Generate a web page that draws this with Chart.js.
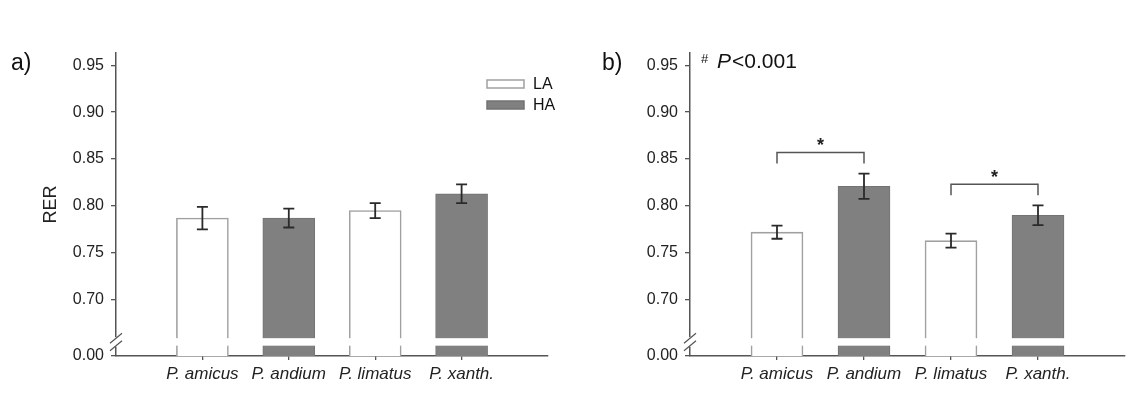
<!DOCTYPE html>
<html>
<head>
<meta charset="utf-8">
<script src="https://cdn.jsdelivr.net/npm/chart.js@4.4.1/dist/chart.umd.min.js"></script>
<style>
    html, body { margin: 0; padding: 0; background: #fff; }
    .panel { position: absolute; top: 0; width: 566px; height: 396px; }
    #wrap-a { left: 0; }
    #wrap-b { left: 566px; }
</style>
</head>
<body>
<div class="panel" id="wrap-a"><canvas id="chart-a"></canvas></div>
<div class="panel" id="wrap-b"><canvas id="chart-b"></canvas></div>
<script>
// Data
const species = ['P. amicus', 'P. andium', 'P. limatus', 'P. xanth.'];
const groups = ['LA', 'HA', 'LA', 'HA'];
const xPos = [1, 2, 3, 4];
const rerA = [0.787, 0.787, 0.795, 0.813];
const errA = [0.012, 0.010, 0.008, 0.010];
const rerB = [0.772, 0.821, 0.763, 0.790];
const errB = [0.007, 0.0135, 0.0075, 0.0105];
const yTickValues = [0.64, 0.70, 0.75, 0.80, 0.85, 0.90, 0.95];
const yTickLabels = ['0.00', '0.70', '0.75', '0.80', '0.85', '0.90', '0.95'];
const legendLabels = ['LA', 'HA'];
// significance brackets in panel b: [from x, to x, height]
const sigPairsB = [[1, 2, 0.857], [3, 4, 0.823]];

const FONT = "'Liberation Sans', Arial, sans-serif";
const AXIS = '#555';
const LA_FILL = '#ffffff', LA_LINE = '#a0a0a0';
const HA_FILL = '#808080', HA_LINE = '#737373';

function buildDatasets(values, errors) {
    return legendLabels.map(g => {
        const idx = groups.map((gr, i) => gr === g ? i : -1).filter(i => i >= 0);
        return {
            label: g,
            data: idx.map(i => ({ x: xPos[i], y: values[i] })),
            errors: idx.map(i => errors[i]),
            backgroundColor: g === 'LA' ? LA_FILL : HA_FILL,
            borderColor: g === 'LA' ? LA_LINE : HA_LINE,
            borderWidth: g === 'LA' ? 1.6 : 1,
            barThickness: 52,
            grouped: false
        };
    });
}

// Break in the y axis, error bars and annotations
function panelPlugin(extra) {
    return {
        id: 'panelDecor',
        afterDatasetsDraw(chart) {
            const ctx = chart.ctx;
            const xs = chart.scales.x, ys = chart.scales.y;
            const area = chart.chartArea;
            const yHi = ys.getPixelForValue(0.659);
            const yLo = ys.getPixelForValue(0.651);
            ctx.save();

            // white gap through the bars
            ctx.fillStyle = '#fff';
            ctx.fillRect(area.left + 1, yHi, area.right - area.left, yLo - yHi);

            // break marks on the axis
            const ax = area.left;
            ctx.fillRect(ax - 2, yHi - 1, 4, yLo - yHi + 2);
            ctx.strokeStyle = AXIS;
            ctx.lineWidth = 1.2;
            [yHi, yLo].forEach(y => {
                ctx.beginPath();
                ctx.moveTo(ax - 6, y + 5);
                ctx.lineTo(ax + 6, y - 5);
                ctx.stroke();
            });

            // error bars
            ctx.strokeStyle = '#2a2a2a';
            ctx.lineWidth = 1.8;
            chart.data.datasets.forEach(ds => {
                ds.data.forEach((p, i) => {
                    const x = xs.getPixelForValue(p.x);
                    const top = ys.getPixelForValue(p.y + ds.errors[i]);
                    const bot = ys.getPixelForValue(p.y - ds.errors[i]);
                    ctx.beginPath();
                    ctx.moveTo(x, top); ctx.lineTo(x, bot);
                    ctx.moveTo(x - 5.5, top); ctx.lineTo(x + 5.5, top);
                    ctx.moveTo(x - 5.5, bot); ctx.lineTo(x + 5.5, bot);
                    ctx.stroke();
                });
            });
            ctx.restore();

            extra(chart, ctx, xs, ys, area);
        }
    };
}

function makePanel(canvasId, values, errors, axisWidth, rightPad, extra) {
    return new Chart(document.getElementById(canvasId), {
        type: 'bar',
        data: { datasets: buildDatasets(values, errors) },
        options: {
            responsive: true,
            maintainAspectRatio: false,
            animation: false,
            layout: { padding: { top: 53, right: rightPad, left: 0, bottom: 0 } },
            plugins: { legend: { display: false }, tooltip: { enabled: false } },
            scales: {
                x: {
                    type: 'linear',
                    min: 0,
                    max: 5,
                    offset: false,
                    afterBuildTicks: s => { s.ticks = xPos.map(v => ({ value: v })); },
                    afterFit: s => { s.height = 40; },
                    ticks: {
                        autoSkip: false,
                        maxRotation: 0,
                        padding: 4,
                        color: '#222',
                        font: { family: FONT, size: 17, style: 'italic' },
                        callback: v => species[xPos.indexOf(v)]
                    },
                    grid: { offset: false, drawOnChartArea: false, drawTicks: true, tickLength: 4, color: AXIS, lineWidth: 1.3 },
                    border: { display: true, color: AXIS, width: 1.5 }
                },
                y: {
                    type: 'linear',
                    min: 0.64,
                    max: 0.963,
                    afterBuildTicks: s => { s.ticks = yTickValues.map(v => ({ value: v })); },
                    afterFit: s => { s.width = axisWidth; },
                    ticks: {
                        autoSkip: false,
                        padding: 7,
                        color: '#222',
                        font: { family: FONT, size: 16 },
                        callback: v => yTickLabels[yTickValues.indexOf(v)]
                    },
                    grid: { drawOnChartArea: false, drawTicks: true, tickLength: 5, color: AXIS, lineWidth: 1.3 },
                    border: { display: true, color: AXIS, width: 1.5 }
                }
            }
        },
        plugins: [panelPlugin(extra)]
    });
}

// Panel a: label, y title and legend
makePanel('chart-a', rerA, errA, 116, 18, (chart, ctx, xs, ys, area) => {
    ctx.save();
    ctx.fillStyle = '#111';
    ctx.font = '23px ' + FONT;
    ctx.textBaseline = 'alphabetic';
    ctx.fillText('a)', 11, 70);

    ctx.translate(51, (area.top + area.bottom) / 2);
    ctx.rotate(-Math.PI / 2);
    ctx.textAlign = 'center';
    ctx.textBaseline = 'middle';
    ctx.font = '18px ' + FONT;
    ctx.fillStyle = '#222';
    ctx.fillText('RER', 0, 0);
    ctx.restore();

    ctx.save();
    ctx.font = '16px ' + FONT;
    ctx.textBaseline = 'middle';
    legendLabels.forEach((g, i) => {
        const y = 80 + i * 21;
        ctx.fillStyle = g === 'LA' ? LA_FILL : HA_FILL;
        ctx.fillRect(487, y, 37, 8);
        ctx.strokeStyle = g === 'LA' ? LA_LINE : HA_LINE;
        ctx.lineWidth = 1.5;
        ctx.strokeRect(487, y, 37, 8);
        ctx.fillStyle = '#111';
        ctx.fillText(g, 533, y + 4.5);
    });
    ctx.restore();
});

// Panel b: label, P value and significance brackets
makePanel('chart-b', rerB, errB, 124, 7, (chart, ctx, xs, ys, area) => {
    ctx.save();
    ctx.fillStyle = '#111';
    ctx.font = '23px ' + FONT;
    ctx.fillText('b)', 36, 70);

    ctx.font = '13px ' + FONT;
    ctx.fillText('#', 135, 63);
    ctx.font = 'italic 21px ' + FONT;
    ctx.fillText('P', 151, 68);
    const pw = ctx.measureText('P').width;
    ctx.font = '21px ' + FONT;
    ctx.fillText('<0.001', 151 + pw + 1, 68);

    ctx.strokeStyle = AXIS;
    ctx.lineWidth = 1.5;
    ctx.textAlign = 'center';
    ctx.font = 'bold 18px ' + FONT;
    sigPairsB.forEach(([a, b, h]) => {
        const x1 = xs.getPixelForValue(a), x2 = xs.getPixelForValue(b);
        const y = ys.getPixelForValue(h);
        ctx.beginPath();
        ctx.moveTo(x1, y + 11);
        ctx.lineTo(x1, y);
        ctx.lineTo(x2, y);
        ctx.lineTo(x2, y + 11);
        ctx.stroke();
        ctx.fillStyle = '#222';
        ctx.fillText('*', (x1 + x2) / 2, y - 1);
    });
    ctx.restore();
});
</script>
</body>
</html>
